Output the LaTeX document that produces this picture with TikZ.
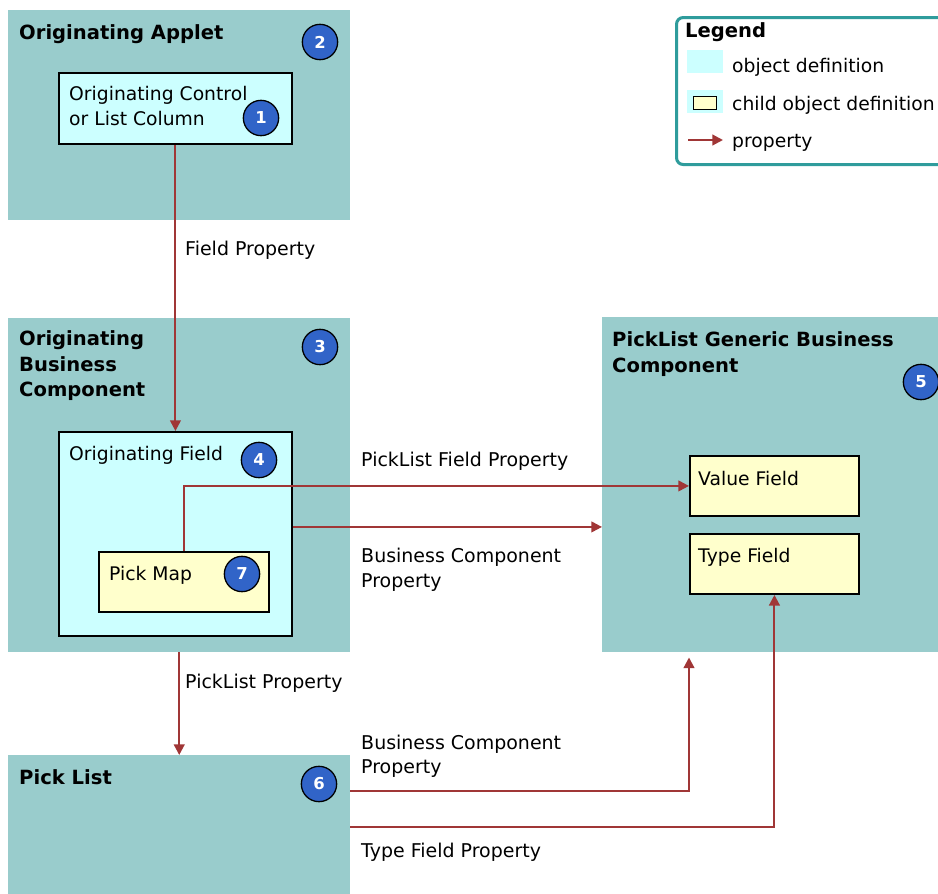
\documentclass[tikz,border=0pt]{standalone}
\usepackage{fontspec}
\setmainfont{DejaVu Sans}
\usetikzlibrary{positioning, calc, arrows.meta}
\definecolor{objteal}{HTML}{99CCCC}
\definecolor{objcyan}{HTML}{CCFFFF}
\definecolor{childyellow}{HTML}{FFFFCC}
\definecolor{propred}{HTML}{A03636}
\definecolor{badgeblue}{HTML}{3164C8}
\definecolor{legendteal}{HTML}{2F9C9C}
\tikzset{
    outer box/.style={anchor=north west, fill=objteal, inner sep=0pt},
    object box/.style={anchor=north west, fill=objcyan, draw=black, line width=1.6pt, inner sep=0pt},
    child box/.style={anchor=north west, fill=childyellow, draw=black, line width=1.6pt, inner sep=0pt},
    box title/.style={anchor=base west, inner sep=0pt, font=\fontsize{16.7}{20}\selectfont\bfseries},
    box text/.style={anchor=base west, inner sep=0pt, font=\fontsize{16}{20}\selectfont},
    prop label/.style={anchor=base west, inner sep=0pt, font=\fontsize{16.2}{20}\selectfont},
    badge/.style={circle, fill=badgeblue, draw=black, line width=1.1pt, minimum size=1.06cm, inner sep=0pt,
        text=white, font=\fontsize{14}{14}\selectfont\bfseries},
    prop/.style={draw=propred, line width=1.8pt, -{Triangle[length=0.32cm, width=0.32cm]}},
}

\begin{document}
\begin{tikzpicture}[x=0.03cm, y=-0.03cm]
    \useasboundingbox (0,0) rectangle (938,894);
    % object definitions
    \node[outer box, minimum width=342*0.03cm, minimum height=210*0.03cm] (applet) at (8,10) {};
    \node[outer box, minimum width=342*0.03cm, minimum height=334*0.03cm] (buscomp) at (8,318) {};
    \node[outer box, minimum width=345*0.03cm, minimum height=335*0.03cm] (gbc) at (602,317) {};
    \node[outer box, minimum width=342*0.03cm, minimum height=150*0.03cm] (picklist) at (8,755) {};
    \node[object box, minimum width=233*0.03cm, minimum height=71*0.03cm] (ctrl) at (58,72) {};
    \node[object box, minimum width=233*0.03cm, minimum height=204*0.03cm] (origfield) at (58,431) {};
    % child object definitions
    \node[child box, minimum width=170*0.03cm, minimum height=60*0.03cm] (pickmap) at (98,551) {};
    \node[child box, minimum width=169*0.03cm, minimum height=60*0.03cm] (valuefield) at (689,455) {};
    \node[child box, minimum width=169*0.03cm, minimum height=60*0.03cm] (typefield) at (689,533) {};

    % titles
    \node[box title] (applet title) at (19,39) {Originating Applet};
    \node[box title] (buscomp title a) at (19,345) {Originating};
    \node[box title] (buscomp title b) at (19,371) {Business};
    \node[box title] (buscomp title c) at (19,396) {Component};
    \node[box title] (gbc title a) at (612,346) {PickList Generic Business};
    \node[box title] (gbc title b) at (612,372) {Component};
    \node[box title] (picklist title) at (19,784) {Pick List};
    \node[box text] (ctrl text a) at (69,100) {Originating Control};
    \node[box text] (ctrl text b) at (69,125) {or List Column};
    \node[box text] (origfield text) at (69,460) {Originating Field};
    \node[box text] (pickmap text) at (109,580) {Pick Map};
    \node[box text] (valuefield text) at (698,485) {Value Field};
    \node[box text] (typefield text) at (698,562) {Type Field};

    % numbers
    \node[badge] (n1) at (261,118) {1};
    \node[badge] (n2) at (320,42) {2};
    \node[badge] (n3) at (320,347) {3};
    \node[badge] (n4) at (259,460) {4};
    \node[badge] (n5) at (921,382) {5};
    \node[badge] (n6) at (319,784) {6};
    \node[badge] (n7) at (242,574) {7};

    % properties
    \draw[prop] (ctrl.south) -- (origfield.north);
    \draw[prop] (pickmap.north) |- (valuefield.west);
    \draw[prop] ([yshift=0.21cm]origfield.east) -- ([yshift=0.21cm]origfield.east -| gbc.west);
    \draw[prop] (buscomp.south) -- (picklist.north);
    \draw[prop] ($(picklist.north east)+(0,36)$) -| ($(gbc.south west)+(87,5)$);
    \draw[prop] ($(picklist.north east)+(0,72)$) -| (typefield.south);
    \node[prop label] (lbl field) at (185,255) {Field Property};
    \node[prop label] (lbl pfield) at (361,466) {PickList Field Property};
    \node[prop label] (lbl bc a) at (361,562) {Business Component};
    \node[prop label] (lbl bc b) at (361,587) {Property};
    \node[prop label] (lbl picklist) at (185,688) {PickList Property};
    \node[prop label] (lbl bc c) at (361,749) {Business Component};
    \node[prop label] (lbl bc d) at (361,773) {Property};
    \node[prop label] (lbl type) at (361,857) {Type Field Property};

    % legend
    \node[anchor=north west, draw=legendteal, line width=2.6pt, rounded corners=0.2cm, fill=white,
        minimum width=280*0.03cm, minimum height=147*0.03cm] (legend) at (675,16) {};
    \node[box title] (legend title) at (685,37) {Legend};
    \node[anchor=north west, fill=objcyan, inner sep=0pt, minimum width=36*0.03cm, minimum height=23*0.03cm] (lg obj) at (687,50) {};
    \node[anchor=north west, fill=objcyan, inner sep=0pt, minimum width=36*0.03cm, minimum height=23*0.03cm] (lg child) at (687,90) {};
    \node[child box, line width=1.2pt, minimum width=23*0.03cm, minimum height=13*0.03cm] (lg child inner) at (693,96) {};
    \coordinate (lg arrow a) at (688,140);
    \coordinate (lg arrow b) at (723,140);
    \draw[prop] (lg arrow a) -- (lg arrow b);
    \node[box text] (lg obj text) at (732,72) {object definition};
    \node[box text] (lg child text) at (732,110) {child object definition};
    \node[box text] (lg prop text) at (732,147) {property};
\end{tikzpicture}
\end{document}
